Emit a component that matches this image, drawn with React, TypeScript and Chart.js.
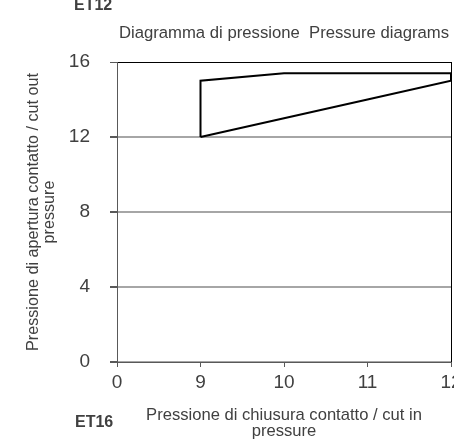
import React, { useEffect, useRef } from "react";
import { Chart, registerables } from "chart.js";

Chart.register(...registerables);

const xLabels = ["0", "9", "10", "11", "12"];
const yTicks = [0, 4, 8, 12, 16];
const polygonX = ["9", "9", "10", "11", "12", "12", "11", "10", "9"];
const polygonY = [12, 15, 15.4, 15.4, 15.4, 15, 14, 13, 12];

const FONT = "'Liberation Sans', Arial, sans-serif";
const TEXT = "#404040";

const cornerLabels = {
  id: "cornerLabels",
  afterDraw(chart: any) {
    const ctx = chart.ctx;
    ctx.save();
    ctx.font = `bold 16px ${FONT}`;
    ctx.fillStyle = TEXT;
    ctx.textAlign = "left";
    ctx.textBaseline = "alphabetic";
    ctx.fillText("ET12", 74, 10);
    ctx.fillText("ET16", 75, 427);
    ctx.restore();
  },
};

export default function App() {
  const ref = useRef<HTMLCanvasElement | null>(null);
  useEffect(() => {
    if (!ref.current) return;
    const chart = new Chart(ref.current, {
      type: "line",
      data: {
        labels: xLabels,
        datasets: [
          {
            data: polygonX.map((x, i) => ({ x, y: polygonY[i] })),
            borderColor: "#000000",
            borderWidth: 2,
            pointRadius: 0,
            fill: false,
            tension: 0,
          },
        ],
      },
      options: {
        animation: false,
        responsive: false,
        layout: { padding: { left: 0, right: 3, top: 0, bottom: 0 } },
        plugins: {
          legend: { display: false },
          tooltip: { enabled: false },
          title: {
            display: true,
            fullSize: false,
            text: "Diagramma di pressione  Pressure diagrams",
            color: TEXT,
            font: { family: FONT, size: 16.7, weight: "normal", lineHeight: 1.0 },
            padding: { top: 25, bottom: 20.3 },
          },
        },
        scales: {
          x: {
            type: "category",
            offset: false,
            afterFit(scale: any) {
              scale.height = 79;
              scale.paddingLeft = 0;
              scale.paddingRight = 0;
            },
            grid: {
              color: (ctx: any) => (ctx.index === 4 ? "#000000" : "rgba(0,0,0,0)"),
              tickColor: "#595959",
              tickLength: 5,
              lineWidth: 1,
            },
            border: { color: "#595959", width: 1 },
            ticks: {
              color: TEXT,
              font: { family: FONT, size: 19 },
              padding: 4,
              maxRotation: 0,
              autoSkip: false,
            },
            title: {
              display: true,
              text: ["Pressione di chiusura contatto / cut in", "pressure"],
              color: TEXT,
              font: { family: FONT, size: 16.6, lineHeight: 1.0 },
              padding: { top: 0, bottom: 1 },
            },
          },
          y: {
            type: "linear",
            min: 0,
            max: 16,
            afterFit(scale: any) {
              scale.width = 117;
              scale.paddingTop = 0;
              scale.paddingBottom = 0;
            },
            afterBuildTicks(scale: any) {
              scale.ticks = yTicks.map((v) => ({ value: v }));
            },
            grid: {
              color: (ctx: any) =>
                ctx.tick && ctx.tick.value === 16 ? "#000000" : "#a6a6a6",
              lineWidth: (ctx: any) => (ctx.tick && ctx.tick.value === 16 ? 1 : 2),
              tickColor: "#595959",
              tickLength: 7,
            },
            border: { color: "#595959", width: 1 },
            ticks: {
              color: TEXT,
              font: { family: FONT, size: 19 },
              padding: 20,
            },
            title: {
              display: true,
              text: ["Pressione di apertura contatto / cut out", "pressure"],
              color: TEXT,
              font: { family: FONT, size: 16.2, lineHeight: 1.0 },
              padding: { top: 25, bottom: 0 },
            },
          },
        },
      },
      plugins: [cornerLabels],
    });
    return () => chart.destroy();
  }, []);
  return (
    <div style={{ position: "absolute", left: 0, top: 0, width: 454, height: 441 }}>
      <canvas ref={ref} width={454} height={441} />
    </div>
  );
}
